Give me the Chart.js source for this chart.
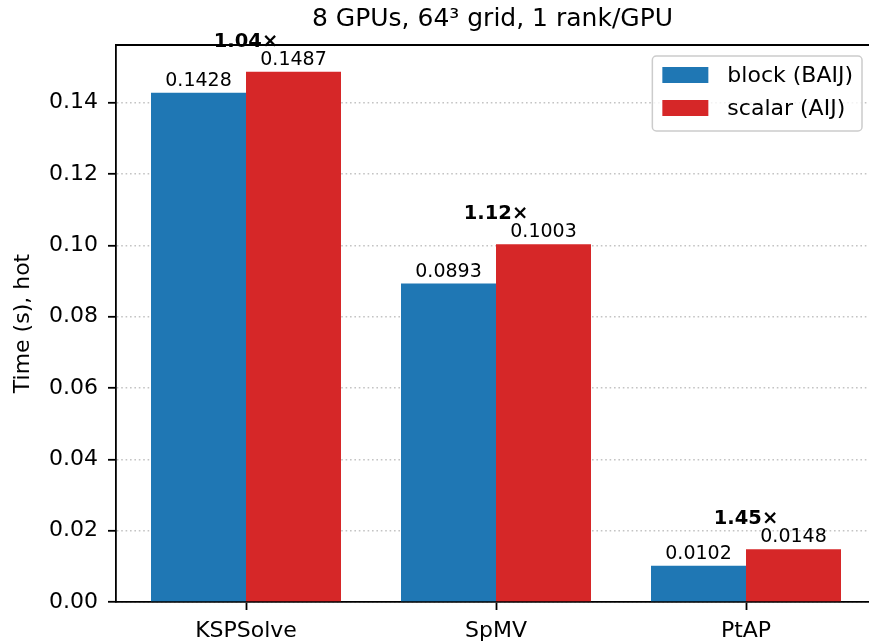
<!DOCTYPE html>
<html>
<head>
<meta charset="utf-8">
<script src="https://cdn.jsdelivr.net/npm/chart.js@4.4.1/dist/chart.umd.min.js"></script>
<style>
  html, body { margin: 0; padding: 0; background: #fff; overflow: hidden; }
  #wrap { width: 869px; height: 643px; }
</style>
</head>
<body>
<div id="wrap"><canvas id="grafica" width="869" height="643"></canvas></div>
<script>
// Datos
const categorias = ['KSPSolve', 'SpMV', 'PtAP'];
const tiemposBlock = [0.1428, 0.0893, 0.0102];   // block (BAIJ)
const tiemposScalar = [0.1487, 0.1003, 0.0148];  // scalar (AIJ)
const ticksY = [0, 0.02, 0.04, 0.06, 0.08, 0.10, 0.12, 0.14];

const AZUL = '#1f77b4';
const ROJO = '#d62728';
const FUENTE = 'DejaVu Sans';

Chart.defaults.font.family = FUENTE;
Chart.defaults.color = '#000';

// ─── Etiquetas sobre las barras + speedup + spine superior ────────────────────
const etiquetasPlugin = {
  id: 'etiquetas',
  afterDatasetsDraw(chart) {
    const ctx = chart.ctx;
    const metaA = chart.getDatasetMeta(0);
    const metaB = chart.getDatasetMeta(1);
    ctx.save();
    ctx.fillStyle = '#000';
    ctx.textAlign = 'center';
    ctx.textBaseline = 'alphabetic';

    ctx.font = `19px "${FUENTE}"`;
    [metaA, metaB].forEach((meta, di) => {
      const valores = di === 0 ? tiemposBlock : tiemposScalar;
      meta.data.forEach((bar, i) => {
        ctx.fillText(valores[i].toFixed(4), bar.x, bar.y - 7);
      });
    });

    ctx.font = `bold 19.5px "${FUENTE}"`;
    categorias.forEach((c, i) => {
      const x = chart.scales.x.getPixelForValue(i);
      const top = Math.min(metaA.data[i].y, metaB.data[i].y);
      const speedup = (tiemposScalar[i] / tiemposBlock[i]).toFixed(2) + '×';
      ctx.fillText(speedup, x, top - 25);
    });

    // spine superior (se dibuja encima del texto, como en la original)
    const a = chart.chartArea;
    ctx.strokeStyle = '#000';
    ctx.lineWidth = 1.8;
    ctx.beginPath();
    ctx.moveTo(a.left - 0.9, a.top);
    ctx.lineTo(a.right, a.top);
    ctx.stroke();
    ctx.restore();
  }
};

// ─── Leyenda dentro del área (arriba a la derecha) ────────────────────────────
const leyendaPlugin = {
  id: 'leyendaDentro',
  afterDraw(chart) {
    const ctx = chart.ctx;
    const a = chart.chartArea;
    const items = chart.data.datasets.map(ds => ({ texto: ds.label, color: ds.backgroundColor }));
    ctx.save();
    ctx.font = `22px "${FUENTE}"`;
    const anchoTexto = Math.max(...items.map(it => ctx.measureText(it.texto).width));
    const ancho = 10 + 46 + 19 + anchoTexto + 9;
    const alto = 75;
    const x0 = a.right - 7 - ancho;
    const y0 = a.top + 11;

    ctx.beginPath();
    ctx.roundRect(x0, y0, ancho, alto, 4);
    ctx.fillStyle = 'rgba(255,255,255,0.8)';
    ctx.fill();
    ctx.strokeStyle = '#cccccc';
    ctx.lineWidth = 1.5;
    ctx.stroke();

    ctx.textAlign = 'left';
    ctx.textBaseline = 'middle';
    items.forEach((it, i) => {
      const yc = y0 + 19 + i * 33;
      ctx.fillStyle = it.color;
      ctx.fillRect(x0 + 10, yc - 8, 46, 16);
      ctx.fillStyle = '#000';
      ctx.fillText(it.texto, x0 + 10 + 46 + 19, yc + 1);
    });
    ctx.restore();
  }
};

new Chart(document.getElementById('grafica'), {
  type: 'bar',
  data: {
    datasets: [
      {
        label: 'block (BAIJ)',
        data: tiemposBlock.map((v, i) => ({ x: i, y: v })),
        backgroundColor: AZUL,
        borderWidth: 0
      },
      {
        label: 'scalar (AIJ)',
        data: tiemposScalar.map((v, i) => ({ x: i, y: v })),
        backgroundColor: ROJO,
        borderWidth: 0
      }
    ]
  },
  options: {
    responsive: false,
    animation: false,
    events: [],
    layout: { padding: { left: 0, right: 0, top: 0, bottom: 0 } },
    datasets: {
      bar: { categoryPercentage: 0.76, barPercentage: 1.0 }
    },
    plugins: {
      legend: { display: false },
      tooltip: { enabled: false },
      title: {
        display: true,
        fullSize: false,
        text: '8 GPUs, 64³ grid, 1 rank/GPU',
        color: '#000',
        font: { size: 25, weight: 'normal' },
        padding: { top: 4, bottom: 11 }
      }
    },
    scales: {
      x: {
        type: 'linear',
        offset: false,
        min: -0.52,
        max: 2.492,
        afterBuildTicks: s => { s.ticks = categorias.map((c, i) => ({ value: i })); },
        afterFit: s => { s.height = 41; },
        ticks: {
          callback: v => categorias[v],
          color: '#000',
          font: { size: 22 },
          padding: 8,
          maxRotation: 0,
          autoSkip: false
        },
        grid: {
          offset: false,
          drawOnChartArea: false,
          drawTicks: true,
          tickLength: 8,
          tickColor: '#000',
          tickWidth: 1.8
        },
        border: { display: true, color: '#000', width: 1.8 }
      },
      y: {
        min: 0,
        max: 0.1562,
        afterBuildTicks: s => { s.ticks = ticksY.map(v => ({ value: v })); },
        afterFit: s => { s.width = 116; },
        ticks: {
          callback: v => v.toFixed(2),
          color: '#000',
          font: { size: 22 },
          padding: 10,
          includeBounds: false
        },
        grid: {
          color: '#c4c4c4',
          lineWidth: 1.6,
          drawTicks: true,
          tickLength: 8,
          tickColor: '#000',
          tickWidth: 1.8,
          tickBorderDash: []
        },
        border: { display: true, color: '#000', width: 1.8, dash: [1.6, 2.8] },
        title: {
          display: true,
          text: 'Time (s), hot',
          color: '#000',
          font: { size: 22 },
          padding: { top: 10, bottom: 0 }
        }
      }
    }
  },
  plugins: [etiquetasPlugin, leyendaPlugin]
});
</script>
</body>
</html>
